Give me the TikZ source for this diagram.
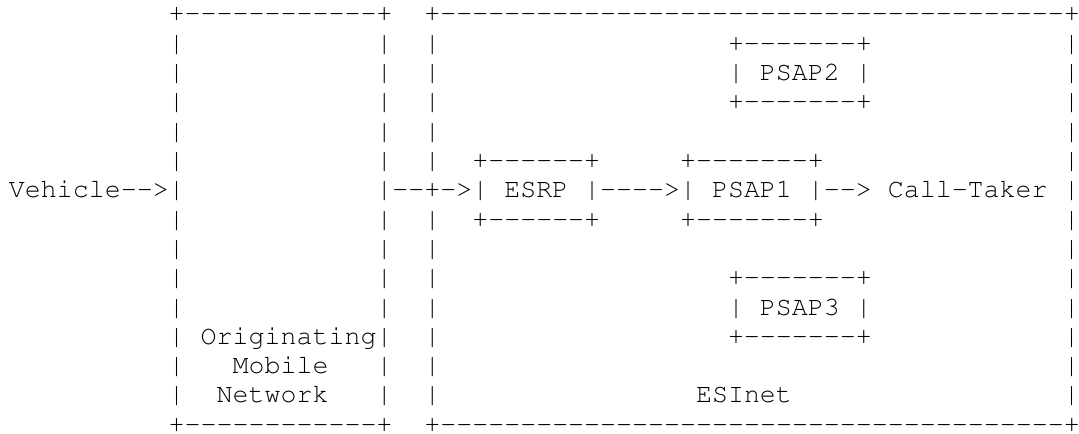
\documentclass[tikz,border=0pt]{standalone}
\usepackage[T1,TU]{fontenc}
\ExplSyntaxOn
\cs_new:Npn \dsh #1 {\prg_replicate:nn{#1}{-\kern0pt}}
\ExplSyntaxOff
\newcommand\arr{-\kern0pt-\kern0pt>}
\tikzset{tt/.style={inner sep=0pt, outer sep=0pt, anchor=base west, text=black,
  font=\fontencoding{T1}\fontfamily{pcr}\fontsize{13.32pt}{14pt}\selectfont}}
\newcommand\tk[4]{\node[tt] (#1) at ({4.45pt+#2*7.99pt},{-11pt-#3*14.65pt}) {#4};}
\newcommand\bars[1]{\tk{bA#1}{10}{#1}{|}\tk{bB#1}{23}{#1}{|}\tk{bC#1}{26}{#1}{|}\tk{bD#1}{66}{#1}{|}}
\begin{document}
\begin{tikzpicture}
\useasboundingbox (0,0) rectangle (539.5pt,-216.5pt);
% borders
\tk{omnTop}{10}{0}{+\dsh{12}+}
\tk{esiTop}{26}{0}{+\dsh{39}+}
\tk{omnBot}{10}{14}{+\dsh{12}+}
\tk{esiBot}{26}{14}{+\dsh{39}+}
% side bars
\bars{1}\bars{2}\bars{3}\bars{4}\bars{5}\bars{7}\bars{8}\bars{9}\bars{10}\bars{12}\bars{13}
% PSAP2
\tk{psapTwoT}{45}{1}{+\dsh{7}+}
\tk{psapTwoL}{45}{2}{|}
\tk{psapTwo}{47}{2}{PSAP2}
\tk{psapTwoR}{53}{2}{|}
\tk{psapTwoB}{45}{3}{+\dsh{7}+}
% ESRP and PSAP1
\tk{esrpT}{29}{5}{+\dsh{6}+}
\tk{psapOneT}{42}{5}{+\dsh{7}+}
\tk{vehicle}{0}{6}{Vehicle\arr|}
\tk{link}{23}{6}{|-\kern0pt-\kern0pt+-\kern0pt>|}
\tk{esrp}{31}{6}{ESRP}
\tk{linkTwo}{36}{6}{|\dsh{4}>|}
\tk{psapOne}{44}{6}{PSAP1}
\tk{linkThree}{50}{6}{|\arr}
\tk{taker}{55}{6}{Call-Taker}
\tk{rbar}{66}{6}{|}
\tk{esrpB}{29}{7}{+\dsh{6}+}
\tk{psapOneB}{42}{7}{+\dsh{7}+}
% PSAP3
\tk{psapThreeT}{45}{9}{+\dsh{7}+}
\tk{psapThreeL}{45}{10}{|}
\tk{psapThree}{47}{10}{PSAP3}
\tk{psapThreeR}{53}{10}{|}
\tk{psapThreeB}{45}{11}{+\dsh{7}+}
% row 11 bars
\tk{bA11}{10}{11}{|}
\tk{orig}{12}{11}{Originating|}
\tk{bC11}{26}{11}{|}
\tk{bD11}{66}{11}{|}
% labels
\tk{mobile}{14}{12}{Mobile}
\tk{network}{13}{13}{Network}
\tk{esinet}{43}{13}{ESInet}
\end{tikzpicture}
\end{document}
